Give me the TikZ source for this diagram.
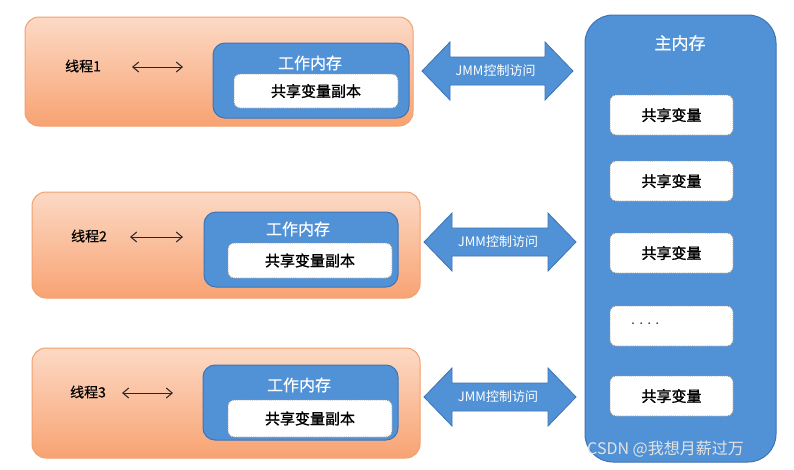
\documentclass[tikz,border=0pt]{standalone}
\usepackage{fontspec}
\setmainfont{Noto Sans CJK SC}
\newfontfamily\cjkb{Noto Sans CJK SC}[FakeBold=1.2]
\newfontfamily\cjkm{Noto Sans CJK SC}[FakeBold=0.6]
\usetikzlibrary{arrows.meta}
\definecolor{orgtop}{HTML}{FCD9C5}
\definecolor{orgbot}{HTML}{F8A372}
\definecolor{orgline}{HTML}{F2A06C}
\definecolor{bluefill}{HTML}{5192D7}
\definecolor{blueline}{HTML}{3E73B5}
\tikzset{
  threadbox/.style={rounded corners=14pt, top color=orgtop, bottom color=orgbot, draw=orgline, line width=1pt, inner sep=0pt},
  workbox/.style={rounded corners=12pt, fill=bluefill, draw=blueline, line width=1pt, inner sep=0pt},
  varbox/.style={rounded corners=6pt, fill=white, draw=gray!85, densely dotted, line width=0.9pt, inner sep=0pt, font=\cjkb\fontsize{15}{17}\selectfont},
  worklabel/.style={text=white, font=\cjkm\fontsize{16}{18}\selectfont, inner sep=0pt},
  threadlabel/.style={font=\cjkm\fontsize{14}{16}\selectfont, inner sep=0pt},
  linkarrow/.style={{Straight Barb[length=6pt,width=10pt]}-{Straight Barb[length=6pt,width=10pt]}, line width=1pt, black!85},
  jmmarrow/.style={fill=bluefill, draw=blueline, line width=0.8pt},
  jmmlabel/.style={text=white, font=\fontsize{13}{15}\selectfont, inner sep=0pt},
}
\begin{document}
\begin{tikzpicture}[x=1pt,y=-1pt]
\useasboundingbox (0,0) rectangle (794,469);
\fill[white] (0,0) rectangle (794,469);

% thread boxes
\node[threadbox, minimum width=388pt, minimum height=109pt] (t1) at (219,71.5) {};
\node[threadbox, minimum width=388pt, minimum height=106pt] (t2) at (226,245) {};
\node[threadbox, minimum width=388pt, minimum height=110pt] (t3) at (226,403) {};

% working memory
\node[workbox, minimum width=196pt, minimum height=75pt] (w1) at (311,80.5) {};
\node[workbox, minimum width=194pt, minimum height=75pt] (w2) at (301,249.5) {};
\node[workbox, minimum width=195pt, minimum height=75pt] (w3) at (300.5,402.5) {};
\node[worklabel] (wl1) at (310,63) {工作内存};
\node[worklabel] (wl2) at (298,229) {工作内存};
\node[worklabel] (wl3) at (299,385) {工作内存};
\node[varbox, minimum width=164pt, minimum height=34pt] (c1) at (316,91) {共享变量副本};
\node[varbox, minimum width=164pt, minimum height=35pt] (c2) at (310,260.5) {共享变量副本};
\node[varbox, minimum width=164pt, minimum height=37pt] (c3) at (310,418.5) {共享变量副本};

% thread labels and arrows
\node[threadlabel] (l1) at (83,66) {线程1};
\node[threadlabel] (l2) at (89,236) {线程2};
\node[threadlabel] (l3) at (88,392) {线程3};
\coordinate (a1s) at (132,67); \coordinate (a1e) at (183,67);
\coordinate (a2s) at (130,237); \coordinate (a2e) at (183,237);
\coordinate (a3s) at (122,393); \coordinate (a3e) at (173,393);
\draw[linkarrow] (a1s) -- (a1e);
\draw[linkarrow] (a2s) -- (a2e);
\draw[linkarrow] (a3s) -- (a3e);

% main memory
\node[workbox, rounded corners=28pt, minimum width=191pt, minimum height=447pt] (m) at (680.5,238.5) {};
\node[text=white, font=\cjkm\fontsize{17}{19}\selectfont, inner sep=0pt] (ml) at (680,43) {主内存};
\node[varbox, minimum width=123pt, minimum height=40pt] (s1) at (671.5,115) {共享变量};
\node[varbox, minimum width=123pt, minimum height=40pt] (s2) at (671.5,181) {共享变量};
\node[varbox, minimum width=123pt, minimum height=40pt] (s3) at (671.5,253) {共享变量};
\node[varbox, minimum width=123pt, minimum height=40pt] (s4) at (671.5,326) {};
\node[anchor=west, inner sep=0pt, text=black!70, font=\fontsize{14}{16}\selectfont] (dots) at (631,324) {. . . .};
\node[varbox, minimum width=123pt, minimum height=40pt] (s5) at (671.5,396) {共享变量};

% JMM double arrows
\foreach \n/\xl/\xr/\cy in {1/422/573/71, 2/424/576/242, 3/424/576/397}{
  \draw[jmmarrow] (\xl,\cy) -- (\xl+28,\cy-29) -- (\xl+28,\cy-14) -- (\xr-28,\cy-14) -- (\xr-28,\cy-29)
     -- (\xr,\cy) -- (\xr-28,\cy+29) -- (\xr-28,\cy+14) -- (\xl+28,\cy+14) -- (\xl+28,\cy+29) -- cycle;
  \node[jmmlabel] (j\n) at ({(\xl+\xr)/2-2},\cy) {JMM控制访问};
}

% watermark
\node[anchor=west, inner sep=0pt, text=white!78!gray, font=\fontsize{16}{18}\selectfont] (wm) at (587,449) {CSDN @我想月薪过万};
\end{tikzpicture}
\end{document}
